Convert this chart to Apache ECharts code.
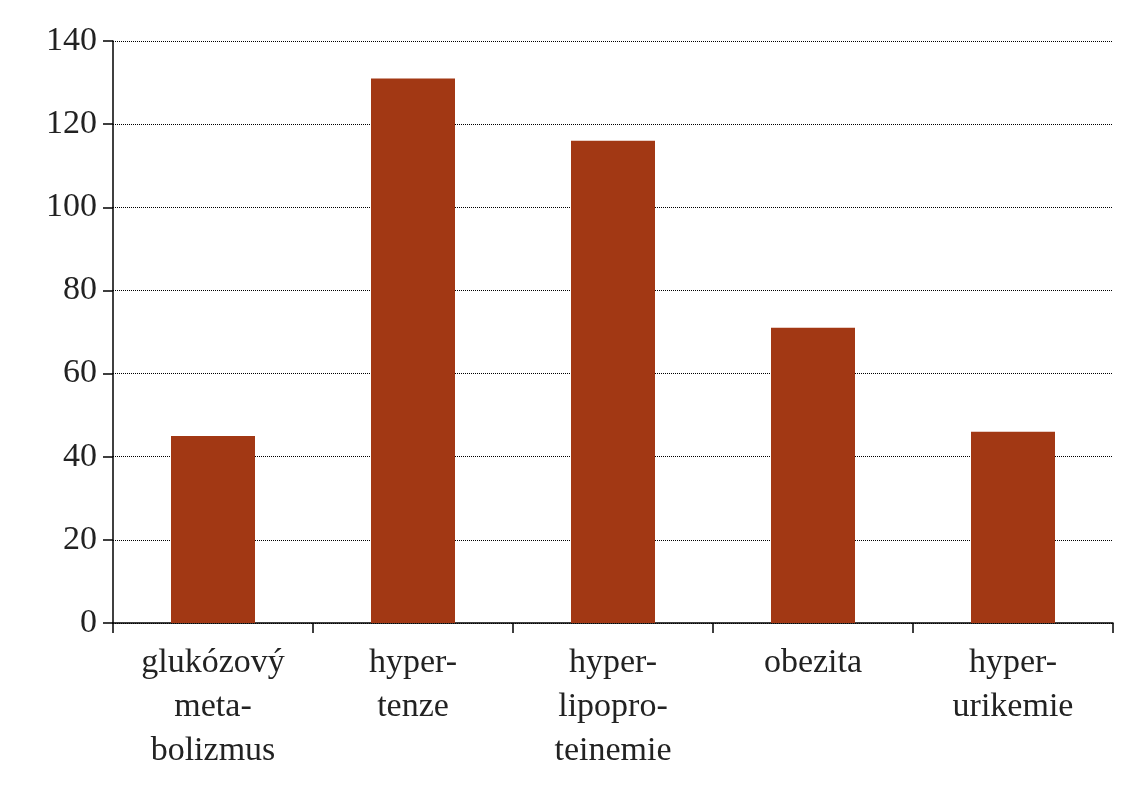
<!DOCTYPE html><html><head><meta charset="utf-8">
<script src="https://cdn.jsdelivr.net/npm/echarts@6/dist/echarts.min.js"></script>
<style>html,body{margin:0;background:#fff}#c{width:1139px;height:800px}</style></head><body><div id="c"></div>
<script>
const categories=["glukózový\nmeta-\nbolizmus","hyper-\ntenze","hyper-\nlipopro-\nteinemie","obezita","hyper-\nurikemie"];
const values=[45,131,116,71,46];
const yTicks=[0,20,40,60,80,100,120,140];
const font="Liberation Serif";
const chart=echarts.init(document.getElementById('c'));
chart.setOption({
 animation:false,
 grid:{left:113,right:26,top:41,bottom:177},
 xAxis:{type:'category',data:categories,
  axisLine:{lineStyle:{color:'#000',width:1.5}},
  axisTick:{show:true,length:10,lineStyle:{color:'#000',width:1.5}},
  axisLabel:{fontFamily:font,fontSize:34,color:'#222',lineHeight:44,margin:18}},
 yAxis:{type:'value',min:0,max:140,interval:20,
  axisLine:{show:true,lineStyle:{color:'#000',width:1.5}},
  axisTick:{show:true,length:10,lineStyle:{color:'#000',width:1.5}},
  axisLabel:{fontFamily:font,fontSize:34,color:'#222',margin:16},
  splitLine:{lineStyle:{color:'#000',type:'dotted',width:1}}},
 series:[{type:'bar',data:values,barWidth:'42%',itemStyle:{color:'#A23814'}}]
});
</script></body></html>
